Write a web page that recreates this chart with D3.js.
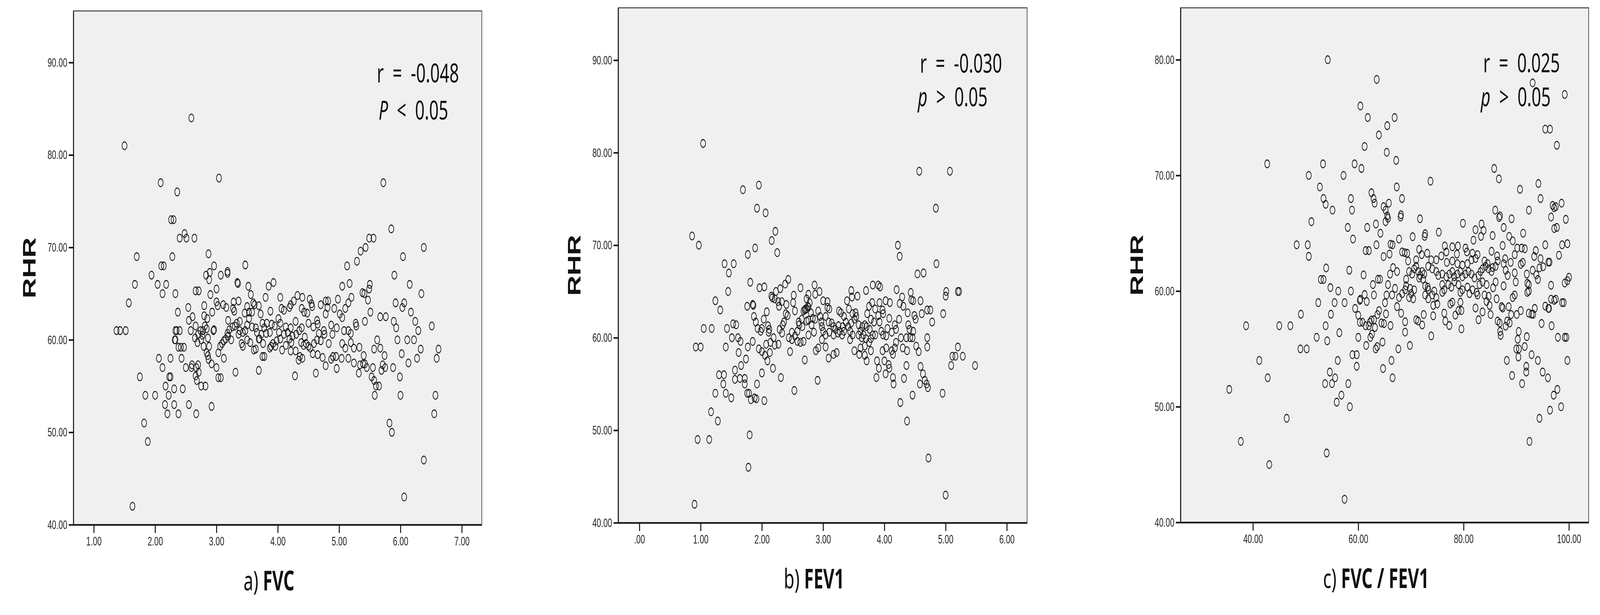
<!DOCTYPE html>
<html>
<head>
<meta charset="utf-8">
<script src="https://cdn.jsdelivr.net/npm/d3@7"></script>
<style>
  html, body { margin: 0; padding: 0; background: #fff; overflow: hidden; }
  #chart svg { position: fixed; left: 0; top: 0; width: 100vw; height: 100vh; display: block; }
  .tick text { font-family: "Liberation Sans", Arial, sans-serif; font-size: 32px; fill: #222; }
</style>
</head>
<body>
<div id="chart"></div>
<script>
// values: [x, RHR]
// a) FVC - scattered points
var fvcOuter = [
  [2.59,84],[1.50,81],[2.09,77],[3.04,77.5],[2.36,76],[2.26,73],[2.30,73],[5.72,77],
  [2.48,71.5],[2.40,71],[2.51,71],[2.64,71],[5.49,71],[5.56,71],[5.85,72],[5.43,70],[5.35,69.6],[5.29,68.5],[5.13,68],
  [1.70,69],[2.28,69],[2.87,69.3],[2.96,68],[6.38,70],[6.04,69],
  [1.67,66],[1.94,67],[2.10,68],[2.14,68],[2.04,66],[2.18,66],[2.12,65],[2.33,65],[1.57,64],
  [1.37,61],[1.43,61],[1.52,61],
  [2.83,67],[2.89,67.3],[2.88,66.5],[3.18,67.4],[3.47,68.1],
  [2.66,65.3],[2.71,65.3],[2.90,64.9],[2.93,63],[2.80,63.7],[2.54,63.5],[2.37,63],[2.61,62.5],[2.55,62.1],[2.80,62.6],
  [2.35,61],[2.40,61],[2.33,60],[2.95,61],[2.66,61.5],[2.77,60.5],[2.74,61],
  [5.90,67],[6.15,66],[6.34,65],[6.51,61.5],[5.92,64],[6.06,64],[6.03,63.5],[6.17,63],[6.24,62],[6.29,61],[5.89,62],[5.93,61.3],[5.76,62.5],[5.67,62.5],
  [5.95,60],[6.11,60],[6.22,60],[6.02,58.5],[6.33,59],[6.27,58],[6.13,57.5],[6.62,59],[6.59,58],[6.57,54],[6.55,52],[6.38,47],[6.06,43],
  [5.99,56],[6.00,54],[5.88,57],[5.82,51],[5.86,50],[5.75,57],[5.74,58.3],[5.71,57.3],[5.67,59.1],[5.69,56.7],[5.62,60],[5.57,59],
  [5.55,57],[5.53,56],[5.57,55.6],[5.60,55],[5.65,55],[5.58,54],
  [5.51,63],[5.50,66],[5.49,65.5],[5.47,64.3],[5.41,65],[5.42,62],[5.40,58.3],[5.39,57.4],[5.42,57.4],[5.45,57],
  [2.92,57.4],[2.92,52.8],
  [2.85,62.3],[2.84,61.2],[2.86,60.2],[2.88,59.3],[2.84,58.6],[2.86,58.3],[2.87,57.9],
  [2.75,60],[2.79,59.3],[2.78,61],[2.81,61.5],[2.70,60.6],[2.69,59.7],
  [2.65,60.2],[2.67,57],[2.70,57.3],[2.71,56.5],[2.58,61],[2.60,57.3],[2.66,56.1],[2.68,55.6],[2.75,55],[2.82,55],[2.67,52],[2.55,53],[2.59,57],
  [2.50,57],[2.47,59.2],[2.42,59.2],[2.38,59.2],[2.43,58],[2.45,54.7],[2.32,60],[2.33,61],[2.31,54.7],[2.31,53],[2.38,52],
  [2.25,58],[2.23,56],[2.25,56],[2.22,54],[2.17,55],[2.16,53],[2.20,52],[2.12,57],[2.06,58],[2.00,54],[1.84,54],[1.75,56],[1.82,51],[1.88,49],[1.63,42]
];
// a) FVC - dense middle band
var fvcCore = [
  [3.07,67],[3.18,67.2],[3.34,66.2],[3.35,66.1],[3.0,65.5],[3.52,65.8],[3.56,64.9],[3.85,65.8],[3.93,66.2],[3.8,64.6],[4.04,64.6],[5.05,65.8],[5.17,66.1],[5.2,64.6],[5.15,64],[5.1,63.4],[4.98,64.4],
  [3.0,64.1],[3.02,63.7],[3.11,63.8],[3.16,63.5],[3.28,64.1],[3.36,64.2],[3.27,63.4],[3.29,63.1],[3.19,62.1],[3.46,62.9],[3.5,63.6],[3.53,63],
  [3.6,64],[3.62,63.8],[3.69,63.7],[3.72,62.8],[3.58,63],[3.88,63.1],[4.06,63.4],[4.1,63.2],[4.19,63.5],[4.21,63.8],[4.26,64.2],[4.32,64.8],[4.4,64.6],
  [4.52,64.4],[4.56,63.6],[4.55,63.9],[4.39,63.4],[4.43,63],[4.48,62.9],[4.7,63.8],[4.78,64.2],[4.82,64.2],[4.81,63.5],[4.78,62.8],
  [4.92,63.4],[5.01,62.8],[5.05,62.4],[4.87,61.6],[4.96,61.3],[4.89,60.6],[4.83,59.6],[5.08,61],[5.15,61],[5.19,60.7],[5.27,61.8],[5.28,61.5],
  [5.05,59.6],[5.1,59.1],[5.19,59.7],[5.24,59.1],[5.33,59.2],[5.15,58],[5.04,58],[4.95,58.2],[4.9,58.2],[4.87,57.9],
  [4.96,56.9],[4.78,57.2],[4.73,58.1],[4.62,56.4],[5.24,57.5],[5.32,56.4],[5.34,57.3],
  [4.65,58.4],[4.57,58.5],[4.53,59.1],[4.59,59.6],[4.64,60],[4.7,59.9],[4.75,61],[4.76,60.6],
  [4.5,61.8],[4.58,61.4],[4.64,62.1],[4.65,61.7],[4.67,60.7],[4.44,60.3],[4.46,59.6],[4.42,59.4],[4.38,59.7],[4.5,59.3],
  [4.36,58.2],[4.34,57.8],[4.4,58],[4.28,56.1],[4.24,60.4],[4.3,60.6],[4.35,61],[4.39,61.3],[4.29,62],
  [4.19,60.1],[4.22,59.7],[4.16,60.8],[4.21,61.3],[4.13,61.4],[4.1,60.6],[4.07,58.9],[4.13,59.4],[4.21,58.8],[4.29,58.8],
  [4.02,60.8],[4.04,60.1],[3.98,59.9],[3.96,59.3],[3.92,59.6],[3.87,59.1],[3.95,61.5],[3.9,61.7],[3.87,60.8],[3.81,60.7],[3.78,61.3],[3.82,61.8],[4.01,62.3],[4.04,61.8],
  [3.73,60.6],[3.69,60.1],[3.66,60.8],[3.64,61.3],[3.75,61.8],[3.76,59.6],[3.7,60.1],[3.78,58.2],[3.75,58.2],[3.89,59.3],[3.69,56.7],
  [3.61,58.9],[3.64,59],[3.55,59.7],[3.5,60],[3.43,59.3],[3.41,59.6],[3.58,61.4],[3.53,62.3],[3.5,61.6],[3.47,61],[3.43,60.8],[3.38,61],[3.36,60.6],
  [3.33,61.8],[3.3,61.5],[3.38,62],[3.26,61.4],[3.21,61.1],[3.18,60.7],[3.15,60.1],[3.12,59.9],[3.09,59.6],[3.06,59.3],[3.03,58.6],[3.12,58],[3.24,60],[3.19,60.4],
  [3.31,56.5],[3.03,55.9],[3.07,55.9],[3.0,57],[2.96,61.1],[5.38,65.1]
];

// b) FEV1 - scattered points
var fev1Outer = [
  [1.04,81],[0.86,71],[0.97,70],[0.90,42],[0.95,49],[1.14,49],[0.92,59],[1.00,59],[1.05,61],[1.18,61],[1.24,64],[1.32,63],[1.39,68],[1.54,68],[1.46,67],[1.45,65],
  [1.43,61],[1.58,61.4],[1.53,61.5],[1.41,59],[1.51,60],[1.61,60],[1.65,59.6],[1.62,58.4],
  [1.30,56],[1.38,56],[1.37,55],[1.24,54],[1.41,54],[1.50,53.5],[1.17,52],[1.28,51],
  [1.56,56.5],[1.56,55.5],[1.64,55.6],[1.66,57],[1.74,57.7],[1.72,55.6],[1.72,55],[1.76,54],[1.79,54],[1.82,53.3],[1.80,49.5],[1.78,46],
  [1.69,76],[1.95,76.5],[1.92,74],[2.06,73.5],[2.22,71.5],[2.16,70.5],[1.89,69.7],[2.25,69.2],[1.77,69],[1.81,66],[1.96,65.4],
  [1.76,63.4],[1.85,63.6],[1.86,63.5],[1.87,62.3],[1.90,61.7],[1.93,61],[1.98,60.7],[1.77,59],[1.85,59.6],[1.95,58.8],
  [1.88,53.5],[1.91,53.4],[1.92,55],[2.04,53.2],
  [4.22,70],[4.25,68.8],[4.37,51],[4.26,53],[4.57,78],[4.64,67],[4.72,47],
  [4.66,55.4],[4.69,55],[4.71,54.6],[4.70,63],[4.75,63],[4.70,60],[4.70,59],[4.78,61.7],
  [4.84,74],[4.85,68],[4.95,54],[4.96,62.6],[5.00,64.5],[5.01,65],[5.00,43],[5.07,78],[5.09,57],[5.11,58],[5.16,58],[5.20,59],[5.20,65],[5.22,65],[5.28,58],[5.48,57]
];
// b) FEV1 - dense middle band
var fev1Core = [
  [2.04,65.5],[2.43,66.3],[2.38,65.8],[2.30,65.3],[2.23,65.0],[2.155,64.5],[2.17,64.3],[2.21,64.2],[2.265,63.9],[2.28,63.4],[2.325,63.9],[2.40,63.6],
  [2.63,65.4],[2.52,64.6],[2.51,63.8],[2.54,62.9],[2.86,65.7],[2.87,64.7],[2.94,65.0],[2.76,64.7],[2.73,64.2],[2.70,63],[2.73,63.1],[2.76,63.3],
  [2.08,62.8],[2.03,62],[2.39,62.6],[2.42,62.4],[2.36,61.7],[2.34,61.4],[2.10,61.3],[2.12,60.9],[2.0,61],[2.11,60.6],
  [2.29,60.9],[2.33,60.5],[2.19,60],[2.07,59.3],[2.14,59.5],[2.21,59.2],[2.27,59.3],
  [2.0,58.5],[2.05,58.1],[2.13,58.4],[2.09,57.5],[2.18,56.7],[2.0,56.2],[2.31,55.7],[2.53,54.3],[2.7,57.6],[2.46,58.5],[2.91,55.4],
  [2.44,60.0],[2.49,59.8],[2.54,60.2],[2.58,59.6],[2.63,59.5],[2.68,59.6],[2.49,60.6],[2.58,60.7],[2.60,61.7],[2.65,62],[2.66,61.2],[2.61,61.4],
  [2.68,62.9],[2.71,63.1],[2.75,63.4],[2.78,63.8],[2.80,62.7],[2.83,62.1],[2.87,62],[2.76,61.9],[2.73,61.8],[2.76,60.3],[2.81,61.4],[2.85,60.6],
  [2.92,62.9],[2.95,62.3],[2.97,61.7],[2.98,61.2],[3.0,60.7],[3.04,60.3],[2.98,59.8],[2.92,58.9],[2.88,58.6],[3.04,59],
  [3.0,64],[3.07,63.9],[3.07,63.3],[3.1,63.1],[3.04,62.3],
  [3.09,61.7],[3.14,61.6],[3.17,61.2],[3.2,60.9],[3.25,61.3],[3.27,60.7],[3.31,60.3],[3.29,62.7],[3.26,62.9],[3.34,62.3],[3.37,61.7],[3.41,61.2],[3.34,60.7],[3.32,61.2],[3.24,60.5],[3.17,60.3],[3.10,60.6],
  [3.09,57.8],[3.17,58.2],[3.22,58.4],
  [3.39,64],[3.42,63.1],[3.46,65.1],[3.47,64.4],[3.56,64.5],
  [3.48,62.6],[3.53,62.7],[3.54,62.3],[3.51,62],[3.46,61.6],[3.44,60.7],[3.48,60.3],[3.44,59.8],
  [3.58,61.4],[3.61,60.7],[3.64,61.2],[3.68,61.4],[3.71,61.2],[3.66,60.3],[3.63,60],[3.70,59.9],[3.58,60.3],
  [3.70,65.1],[3.81,65.7],[3.90,65.7],[3.93,65.5],
  [3.80,63.8],[3.85,63.1],[3.75,63.4],[3.72,62.6],[3.83,61.7],[3.78,62],
  [3.92,61.7],[3.90,62.4],[3.92,63.8],[3.97,63],[3.98,62.6],[4.02,64],[4.09,63.8],[4.08,62.1],
  [3.76,60.9],[3.81,60.3],[3.85,60.3],[3.78,59.9],[3.75,59.5],[3.68,59.1],[3.61,58.9],[3.59,58.2],[3.68,58.1],[3.71,57.5],[3.51,58.6],[3.78,58.6],
  [3.95,60.7],[3.98,60.3],[4.05,61],[4.03,60.2],[4.12,60.6],[4.17,61.4],[4.19,60.9],[4.24,62],[4.19,59.5],[4.17,58.9],[3.97,58.6],[4.03,58.9],[4.12,58.6],[4.14,58.2],
  [4.20,65.2],[4.29,64.4],[4.25,63.7],[4.31,63.4],[4.38,62.7],[4.43,64.9],[4.44,64.1],[4.47,64],[4.59,64],[4.61,62.6],[4.54,66.9],[4.49,62.4],[4.51,62],
  [4.39,61.4],[4.47,60.7],[4.41,60.9],[4.27,60],[4.36,60],[4.42,60],[4.46,60],[4.30,58.9],[4.37,58.6],[4.52,59.1],[4.56,58.5],
  [3.88,57.5],[3.91,56.7],[3.87,55.7],[4.0,57.5],[4.02,56.1],[4.07,57.1],[4.08,56.7],[4.14,55.7],[4.15,55],[4.32,55.6],[4.36,57],[4.59,56.9],[4.58,55],[4.46,53.8],[4.63,56.1]
];

// c) FVC / FEV1 - scattered points
var ratioOuter = [
  [54.2,80],[63.5,78.3],[93.1,78],[99.2,77],[60.4,76],[61.8,75],[66.9,75],[65.5,74.3],[63.9,73.5],[61.2,72.5],[65.4,72],[95.5,74],[96.4,74],[97.7,72.6],
  [42.7,71],[53.3,71],[59.3,71],[60.6,70.6],[67.2,71.3],[50.6,70],[57.2,70],[73.7,69.5],[85.8,70.6],[86.7,69.7],[94.2,69.3],[90.7,68.8],
  [52.7,69],[67.3,69],[62.5,68.5],[62.9,68],[63.1,67.6],[53.4,68],[53.8,67.5],[58.6,68],[68.3,68],[94.6,68],[96.9,67.4],[97.2,67.2],[97.5,67.3],[98.6,67.6],
  [55.1,67],[58.8,67],[64.8,67.3],[65.2,67],[65.8,67.6],[86,67],[92.4,67],[86.9,66.5],[68.1,66.6],[51.1,66],[65.5,66.5],
  [99.4,66.2],[97.2,65.4],[96.6,66.4],[97.7,65.5],
  [58,65.5],[61.7,65.5],[59,64.5],[95.5,64],[99.7,64.1],[98.7,64],[98.1,63.1],
  [48.3,64],[50.4,64],[50.6,63],[61.4,63.5],[62,63.5],
  [53.9,62],[58.3,61.8],[61,61.4],[52.9,61],[53.4,61],[54.7,60.3],[56.2,60],[58.6,60],
  [60.3,59.2],[60.4,59.3],[61.2,59.7],[61.6,59.1],
  [52.4,59],[55.5,59],[57.4,59],[59.4,58.5],[60,57.9],[60.3,57.3],[54.8,58],[60.8,57.3],[61.4,57],[62.2,57.3],[62.5,57.5],[62,57],
  [47.1,57],[45,57],[38.7,57],[49.1,58],[53.8,57],[54.1,55.7],[56.4,56.4],[52.1,56],[49,55],[50.2,55],[60,56],[61.5,55.3],[62.3,56],[63.3,55],[63.6,55.2],[64.6,55.6],
  [58.9,54.5],[59.7,54.5],[59.7,53.5],[56.1,54],[66.3,54],[64.7,53.3],[41.2,54],[42.8,52.5],[35.5,51.5],[53.7,52],[55,52],[54.6,53],[55.6,52.5],[58.1,52],[55.9,50.4],[56.8,51],[58.4,50],[66.5,52.5],
  [46.4,49],[37.7,47],[43.1,45],[54,46],[57.4,42],
  [92.5,47],[94.4,49],[96.4,49.7],[98.5,50],[97.1,51],[97.8,51.5],[96,52.5],[95,53],[91.1,52],[91.9,53],[91.9,53.5],[90.4,54.3],[88.2,54],[89.2,52.7],[94.1,54],[92.9,54.5],[90,55],[90.5,55],[91.6,55.2],
  [92.9,58],[93.2,58],[94.8,57.2],[93.5,58.5],
  [95.5,58.7],[96.1,58.5],[96.2,58.5],[96.7,57],[96.6,59.3],[97.2,59.2],[97.5,59.3],[98.7,59],[99,59],
  [97.9,56],[99.2,56],[99.5,56],[99.7,54],[99.2,60.7],[99.7,60.9],[100,61.2],[96.6,60.5],[96.1,62.5],[96.3,62.5],[95.1,62.1],[94.4,62],[94.6,62.8],[94.1,61],[93.8,61.4],[93.1,61.8],
  [93.4,63],[93.7,63.5],[67.6,55],[69.8,55.3]
];
// c) FVC / FEV1 - dense middle band
var ratioCore = [
  [63.35,65.8],[65.17,66],[65.64,66.3],[68.03,66.4],[71.72,66.25],[79.87,65.86],[83.4,65.8],[83.78,65.24],[83.3,64.73],[82.25,65.3],[81.87,64.4],[86.74,66.36],[89.1,66.25],[87.6,65.5],[91.3,65.0],[88.65,64.73],[89.32,64.34],[85.5,64.8],
  [64.2,65.0],[63.45,64.0],[66.5,64.0],[66.12,64.05],[67.74,64.5],[70.32,64.7],[72.6,64.73],[72.7,64.96],[75.28,65.1],
  [64.8,62.98],[65.93,63.2],[68.32,63.38],[68.8,63.32],[69.27,63.27],[69.46,62.6],[71.56,63.6],[72.04,63.15],[73.09,63.27],[70.99,62.7],
  [76.43,63.9],[77.86,63.83],[78.91,63.9],[78.72,63.2],[80.35,63.72],[80.63,63.38],[81.68,63.27],[82.64,63.15],[85.31,63.44],[86.36,63.04],[87.41,63.94],[87.89,62.8],[88.94,62.48],[90.18,63.72],[91.03,63.72],[91.61,63.66],[89.7,63.15],[91.23,62.48],[90.85,62.31],
  [73.85,62.7],[74.81,62.7],[75.76,63.04],[76.72,63.38],[76.81,62.48],[77.86,62.6],[78.82,62.37],[79.77,62.25],[80.73,62.37],[81.49,62.7],[82.25,62.82],[83.97,62.6],[84.55,62.37],[85.5,62.03],[86.46,62.6],
  [66.6,62.03],[67.36,61.69],[66.03,61.47],[63.74,61.02],[64.12,61.02],[62.78,60.56],[65.64,60.56],[62.97,59.66],
  [69.08,61.02],[69.65,61.69],[70.23,61.47],[70.61,61.92],[70.99,62.14],[71.37,61.69],[71.75,61.35],[72.14,61.69],[72.52,61.47],
  [73.28,62.14],[74.04,61.92],[74.81,61.69],[75.19,61.35],[75.95,61.47],[76.72,61.24],[77.29,61.47],[77.86,61.69],[78.24,61.24],[78.82,61.47],[79.39,61.69],[79.77,61.24],[80.35,61.47],[80.92,61.69],[81.49,61.47],[82.06,61.13],[82.83,61.35],[83.21,61.69],[83.59,61.92],[84.16,62.14],[84.74,61.92],[85.31,61.69],[86.07,62.14],
  [87.6,62.37],[87.98,61.8],[88.36,61.35],[87.6,60.45],[89.7,61.58],[89.89,60.79],[91.99,61.47],[92.09,60.68],[92.37,60],
  [69.08,60.45],[69.84,60.23],[70.61,60.11],[70.04,59.78],[70.42,59.33],[69.65,59.44],[68.89,60.11],[68.32,59.78],[67.74,59.44],
  [66.98,60.23],[66.41,59.66],[65.36,59.66],[65.07,58.99],[67.36,58.65],[68.13,58.09],[63.93,58.31],[65.26,58.03],[63.64,57.97],[64.4,57.24],[64.88,57.19],[62.97,57.52],[63.16,56.85],[62.6,56.28],
  [68.89,57.35],[68.89,56.45],[66.12,57.02],[71.0,57.52],[71.37,57.41],[72.14,57.07],[72.42,57.97],[73.85,56.12],[74.23,57.86],[76.33,58.09],[76.53,57.41],[77.29,57.02],[79.58,56.73],[78.43,57.92],[77.48,58.88],[77.86,59.04],[79.01,58.31],[79.58,58.31],[79.39,59.04],
  [71.56,61.13],[72.32,61.02],[72.71,60.45],[73.19,60.34],[73.28,60.11],[72.71,59.66],[73.28,59.33],[74.04,59.66],[74.42,60.0],[74.81,59.44],[75.0,58.88],[74.23,58.76],[75.95,59.89],[75.95,60.56],[76.33,60.11],
  [77.1,60.56],[77.67,60.34],[78.24,60.79],[79.01,60.56],[79.39,59.89],[79.77,60.11],[80.73,60.34],[81.11,59.78],[81.68,60.11],[82.45,59.89],[83.02,60.56],[83.59,60.79],[84.35,60.56],[82.64,59.66],
  [83.97,59.66],[84.74,59.55],[84.35,59.1],[84.93,58.76],[85.12,57.97],[86.26,59.33],[86.07,60.79],[85.6,60.28],[82.25,58.54],[83.59,58.2],[82.83,57.52],
  [87.22,58.65],[87.41,58.54],[88.55,58.65],[89.32,59.44],[89.7,59.66],[89.03,57.97],[90.08,57.97],[90.85,58.31],[86.46,57.41],[86.84,57.24],[88.27,57.41],[88.74,57.24],[87.98,56.96],[86.93,56.51],[87.03,56.17],[90.46,56.51],[90.27,55.83],[91.99,56.06],[92.37,58.09],[92.09,59.89],[92.37,60.56]
];

var fvcTicks = [1, 2, 3, 4, 5, 6, 7];
var fev1Ticks = [0, 1, 2, 3, 4, 5, 6];
var ratioTicks = [40, 60, 80, 100];
var rhrTicks = [40, 50, 60, 70, 80, 90];
var rhrTicksRatio = [40, 50, 60, 70, 80];

var panelLetters = ['a)', 'b)', 'c)'];
var panelNames = ['FVC', 'FEV1', 'FVC / FEV1'];
var rValues = ['-0.048', '-0.030', '0.025'];
var pLetters = ['P', 'p', 'p'];
var pSigns = ['<', '>', '>'];

var width = 6496, height = 1574;

var panels = [
  { points: fvcOuter.concat(fvcCore), xDomain: [0.667, 7.325], xTicks: fvcTicks, yDomain: [40, 95.58], yTicks: rhrTicks,
    left: 298, right: 1956, top: 28, bottom: 1343, rx: 1530, ry: 211, px: 1537, py: 306 },
  { points: fev1Outer.concat(fev1Core), xDomain: [-0.346, 6.33], xTicks: fev1Ticks, yDomain: [40, 95.66], yTicks: rhrTicks,
    left: 2510, right: 4170, top: 20, bottom: 1338, rx: 3735, ry: 186, px: 3726, py: 272 },
  { points: ratioOuter.concat(ratioCore), xDomain: [26.25, 103.74], xTicks: ratioTicks, yDomain: [40, 84.49], yTicks: rhrTicksRatio,
    left: 4793, right: 6450, top: 20, bottom: 1337, rx: 6022, ry: 185, px: 6012, py: 272 }
];

var fmt = function(d) { return d3.format('.2f')(d).replace(/^0\./, '.'); };

// drawing is laid out in 6496 x 1574 units and stretched over the whole window
var vis = d3.select('#chart').append('svg')
    .attr('viewBox', '0 0 ' + width + ' ' + height)
    .attr('preserveAspectRatio', 'none');

panels.forEach(function(p, i) {
    var x = d3.scaleLinear().domain(p.xDomain).range([p.left, p.right]),
        y = d3.scaleLinear().domain(p.yDomain).range([p.bottom, p.top]);

    var g = vis.append('g');

    // plot area + light frame on top / right
    g.append('rect')
        .attr('x', p.left)
        .attr('y', p.top)
        .attr('width', p.right - p.left)
        .attr('height', p.bottom - p.top)
        .attr('fill', '#f0f0f0')
        .attr('stroke', '#555')
        .attr('stroke-width', 3);

    var yAxis = g.append('g')
        .attr('transform', 'translate(' + p.left + ',0)')
        .call(d3.axisLeft(y).tickValues(p.yTicks).tickFormat(fmt).tickSize(19).tickSizeOuter(0).tickPadding(6));

    var xAxis = g.append('g')
        .attr('transform', 'translate(0,' + p.bottom + ')')
        .call(d3.axisBottom(x).tickValues(p.xTicks).tickFormat(fmt).tickSize(21).tickSizeOuter(0).tickPadding(8));

    [yAxis, xAxis].forEach(function(a) {
        a.select('.domain').attr('stroke', '#111').attr('stroke-width', 4);
        a.selectAll('.tick line').attr('stroke', '#111').attr('stroke-width', 4);
        a.selectAll('.tick text').attr('font-family', null).attr('font-size', null);
    });
    xAxis.selectAll('.tick text').attr('dy', '0.75em');

    // the dots
    g.append('g').selectAll('circle')
        .data(p.points)
        .enter().append('circle')
        .attr('cx', function(d) { return x(d[0]); })
        .attr('cy', function(d) { return y(d[1]); })
        .attr('r', 10)
        .attr('fill', 'none')
        .attr('stroke', '#1a1a1a')
        .attr('stroke-width', 2.6);

    // RHR label
    var cy = (p.top + p.bottom) / 2;
    g.append('text')
        .attr('transform', 'translate(' + (p.left - 153) + ',' + cy + ') rotate(-90)')
        .attr('text-anchor', 'middle')
        .attr('font-family', '"Liberation Sans", Arial, sans-serif')
        .attr('font-weight', 'bold')
        .attr('font-size', 72)
        .attr('fill', '#111')
        .text('RHR');

    // x label
    var xl = g.append('text')
        .attr('x', (p.left + p.right) / 2 - 35)
        .attr('y', p.bottom + 168)
        .attr('text-anchor', 'middle')
        .attr('font-family', '"Noto Sans", sans-serif')
        .attr('font-size', 70)
        .attr('fill', '#111');
    xl.append('tspan').text(panelLetters[i] + ' ');
    xl.append('tspan').attr('font-weight', 'bold').text(panelNames[i]);

    // statistics
    g.append('text')
        .attr('x', p.rx)
        .attr('y', p.ry)
        .attr('font-family', '"Noto Sans", sans-serif')
        .attr('font-size', 68)
        .attr('fill', '#111')
        .style('white-space', 'pre')
        .text('r  =  ' + rValues[i]);

    var pt = g.append('text')
        .attr('x', p.px)
        .attr('y', p.py)
        .attr('font-family', '"Noto Sans", sans-serif')
        .attr('font-size', 68)
        .attr('fill', '#111')
        .style('white-space', 'pre');
    pt.append('tspan').attr('font-style', 'italic').text(pLetters[i]);
    pt.append('tspan').text('  ' + pSigns[i] + '  0.05');
});
</script>
</body>
</html>
